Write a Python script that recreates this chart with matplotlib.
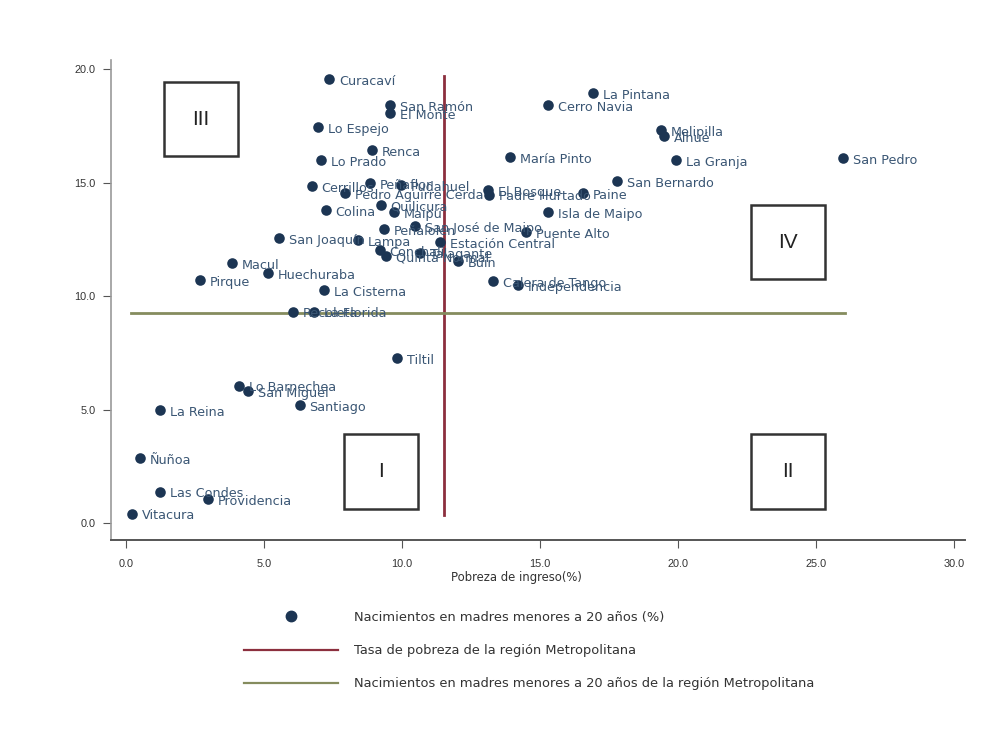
import matplotlib
matplotlib.use("Agg")
import matplotlib.pyplot as plt
from matplotlib.patches import Rectangle
from matplotlib.lines import Line2D

plt.rcParams['font.family'] = ['Liberation Sans', 'DejaVu Sans']

# Comunas de la Región Metropolitana
comunas = [
    "Curacaví", "San Ramón", "El Monte", "La Pintana", "Cerro Navia", "Lo Espejo",
    "Melipilla", "Alhué", "Renca", "Lo Prado", "María Pinto", "La Granja",
    "San Pedro", "San Bernardo", "Cerrillos", "Peñaflor", "Pudahuel",
    "Pedro Aguirre Cerda", "El Bosque", "Padre Hurtado", "Paine", "Isla de Maipo",
    "Colina", "Quilicura", "Maipú", "San José de Maipo", "Peñalolén",
    "Puente Alto", "Estación Central", "San Joaquín", "Lampa", "Conchalí",
    "Quinta Normal", "Talagante", "Buin", "Macul", "Huechuraba", "Pirque",
    "La Cisterna", "Calera de Tango", "Independencia", "Recoleta", "La Florida",
    "Tiltil", "Lo Barnechea", "San Miguel", "Santiago", "La Reina", "Ñuñoa",
    "Las Condes", "Providencia", "Vitacura",
]
# Pobreza de ingreso (%)
pobreza = [
    7.36, 9.57, 9.57, 16.92, 15.29, 6.96,
    19.38, 19.49, 8.91, 7.07, 13.91, 19.93,
    25.98, 17.79, 6.74, 8.84, 9.96,
    7.93, 13.12, 13.15, 16.56, 15.29,
    7.25, 9.24, 9.71, 10.47, 9.35,
    14.49, 11.38, 5.54, 8.41, 9.20,
    9.42, 10.65, 12.03, 3.84, 5.14, 2.68,
    7.17, 13.30, 14.20, 6.05, 6.81,
    9.82, 4.09, 4.42, 6.30, 1.23, 0.51,
    1.23, 2.97, 0.22,
]
# Nacimientos en madres menores a 20 años (%)
nacimientos = [
    19.56, 18.40, 18.06, 18.94, 18.41, 17.44,
    17.31, 17.05, 16.43, 15.99, 16.12, 15.99,
    16.08, 15.07, 14.85, 14.98, 14.89,
    14.54, 14.67, 14.47, 14.54, 13.70,
    13.79, 14.00, 13.70, 13.08, 12.95,
    12.82, 12.38, 12.56, 12.47, 12.03,
    11.76, 11.90, 11.54, 11.45, 11.01, 10.70,
    10.26, 10.66, 10.48, 9.30, 9.30,
    7.27, 6.04, 5.81, 5.20, 4.98, 2.86,
    1.37, 1.06, 0.40,
]

# Promedios regionales
pobreza_region = 11.52
nacimientos_region = 9.25

# Cuadrantes: (etiqueta, x centro, y centro)
cuadrantes = [("III", 2.72, 17.8), ("I", 9.24, 2.25), ("II", 23.99, 2.25), ("IV", 23.99, 12.38)]

x_ticks = [0, 5, 10, 15, 20, 25, 30]
y_ticks = [0, 5, 10, 15, 20]

navy = "#1c3553"
label_col = "#3a5674"
maroon = "#8c2f3e"
khaki = "#858c5e"
wide_font = ['DejaVu Sans']

fig = plt.figure(figsize=(9.84, 7.33), dpi=100)
ax = fig.add_axes([111 / 984, 1 - 540 / 733, (965 - 111) / 984, (540 - 60) / 733])

ax.set_xlim(-0.54, 30.4)
ax.set_ylim(-0.75, 20.4)

# Líneas de referencia regionales
ax.plot([pobreza_region, pobreza_region], [0.35, 19.7], color=maroon, lw=2, zorder=2)
ax.plot([0.2, 26.05], [nacimientos_region, nacimientos_region], color=khaki, lw=2, zorder=2)

ax.scatter(pobreza, nacimientos, s=58, color=navy, zorder=3, linewidths=0)
for name, x, y in zip(comunas, pobreza, nacimientos):
    ax.annotate(name, (x, y), xytext=(7, -1.5), textcoords="offset points",
                ha="left", va="center", fontsize=9.2, color=label_col, zorder=4,
                family=wide_font)

# Recuadros de cuadrantes
w, h = 2.68, 3.3
for lab, cx, cy in cuadrantes:
    ax.add_patch(Rectangle((cx - w / 2, cy - h / 2), w, h, fill=False,
                           edgecolor="#333333", lw=1.8, zorder=5))
    ax.text(cx, cy, lab, ha="center", va="center", fontsize=15, color="#222222", zorder=5)

for s in ["top", "right"]:
    ax.spines[s].set_visible(False)
ax.spines["left"].set_color("#9a9a9a")
ax.spines["bottom"].set_color("#555555")
ax.spines["left"].set_linewidth(1.2)
ax.spines["bottom"].set_linewidth(1.4)

ax.set_xticks(x_ticks)
ax.set_xticklabels([f"{v:.1f}" for v in x_ticks])
ax.set_yticks(y_ticks)
ax.set_yticklabels([f"{v:.1f}" for v in y_ticks])
ax.tick_params(axis="both", labelsize=7.8, colors="#555555", labelcolor="#333333", length=6)
ax.tick_params(axis="y", pad=5)
ax.tick_params(axis="x", pad=8)
ax.set_xlabel("Pobreza de ingreso(%)", fontsize=8.4, color="#333333", family=wide_font)
ax.xaxis.set_label_coords((516 - 111) / 854, -0.065)

handles = [
    Line2D([], [], marker="o", linestyle="none", markersize=7.5, color=navy),
    Line2D([], [], color=maroon, lw=1.6),
    Line2D([], [], color=khaki, lw=1.6),
]
labels = [
    "Nacimientos en madres menores a 20 años (%)",
    "Tasa de pobreza de la región Metropolitana",
    "Nacimientos en madres menores a 20 años de la región Metropolitana",
]
fig.legend(handles, labels, loc="upper left", bbox_to_anchor=(244 / 984, 1 - 611 / 733),
           frameon=False, handlelength=7.2, handletextpad=1.2,
           labelspacing=1.55, borderpad=0, borderaxespad=0, labelcolor="#333333",
           prop={'family': wide_font, 'size': 9.4})

fig.savefig("out.png", dpi=100, facecolor="white")
